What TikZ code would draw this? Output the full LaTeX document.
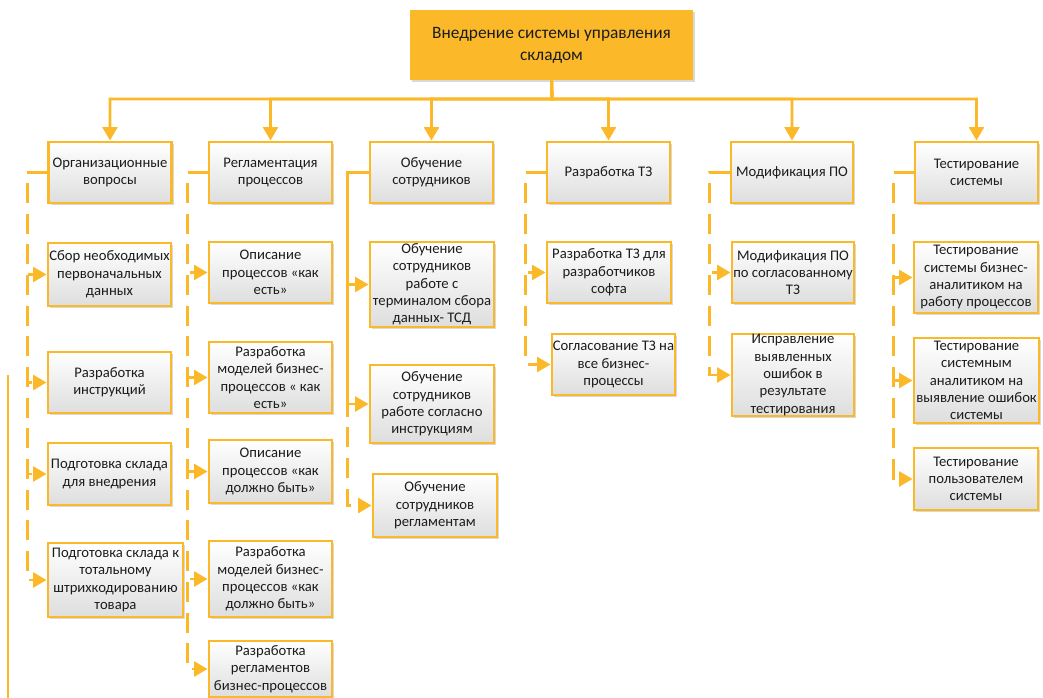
\documentclass[tikz,border=0pt]{standalone}
\usepackage{fontspec}
\setmainfont{Carlito}
\usetikzlibrary{arrows.meta,shadows}
\definecolor{wbsorange}{RGB}{251,185,42}
\definecolor{wbstext}{RGB}{28,28,28}
\tikzset{
  wbsline/.style={draw=wbsorange, line width=2.2pt},
  trunk/.style={wbsline, -{Triangle[length=10pt,width=11pt]}},
  feed/.style={trunk},
  dashfeed/.style={trunk, dash pattern=on 15pt off 8pt},
  task/.style 2 args={draw=wbsorange, line width=2.2pt, top color=white, bottom color=black!13,
    minimum width=#1*0.75pt, minimum height=#2*0.75pt, inner sep=0pt, align=center,
    text=wbstext, font=\fontsize{11}{13}\selectfont,
    drop shadow={shadow xshift=1.8pt, shadow yshift=-1.8pt, opacity=0.3}},
  goal/.style={fill=wbsorange, minimum width=283*0.75pt, minimum height=70*0.75pt,
    inner sep=0pt, align=center, text=wbstext, font=\fontsize{13}{16.5}\selectfont,
    drop shadow={shadow xshift=1.8pt, shadow yshift=-1.8pt, opacity=0.3}}
}
\begin{document}
\begin{tikzpicture}[x=0.75pt,y=0.75pt]
  \useasboundingbox (0,0) rectangle (1043,-698);
  \node[goal] (root) at (551.5,-45) {Внедрение системы управления\\складом};
  \coordinate (bus) at (552,-99);

  \node[task={123}{61}] (org) at (110,-172.5) {Организационные\\вопросы};
  \node[task={123}{61}] (regl) at (270.5,-172.5) {Регламентация\\процессов};
  \node[task={123}{61}] (obuch) at (431.5,-172.5) {Обучение\\сотрудников};
  \node[task={123}{61}] (tz) at (608.5,-172.5) {Разработка ТЗ};
  \node[task={122}{61}] (mod) at (792,-172.5) {Модификация ПО};
  \node[task={123}{61}] (test) at (976.5,-172.5) {Тестирование\\системы};

  \node[task={123}{63}] (org1) at (109.5,-274.5) {Сбор необходимых\\первоначальных\\данных};
  \node[task={123}{61}] (org2) at (109.5,-382.5) {Разработка\\инструкций};
  \node[task={123}{62}] (org3) at (109.5,-474) {Подготовка склада\\для внедрения};
  \node[task={135}{74}] (org4) at (115.5,-580) {Подготовка склада к\\тотальному\\штрихкодированию\\товара};

  \node[task={123}{61}] (regl1) at (270.5,-272.5) {Описание\\процессов «как\\есть»};
  \node[task={123}{71}] (regl2) at (270.5,-377.5) {Разработка\\моделей бизнес-\\процессов « как\\есть»};
  \node[task={123}{63}] (regl3) at (270.5,-471.5) {Описание\\процессов «как\\должно быть»};
  \node[task={123}{76}] (regl4) at (270.5,-579) {Разработка\\моделей бизнес-\\процессов «как\\должно быть»};
  \node[task={123}{56}] (regl5) at (270.5,-669) {Разработка\\регламентов\\бизнес-процессов};

  \node[task={124}{85}] (obuch1) at (432,-284.5) {Обучение\\сотрудников\\работе с\\терминалом сбора\\данных- ТСД};
  \node[task={124}{78}] (obuch2) at (432,-404) {Обучение\\сотрудников\\работе согласно\\инструкциям};
  \node[task={124}{63}] (obuch3) at (435,-505.5) {Обучение\\сотрудников\\регламентам};

  \node[task={124}{61}] (tz1) at (609,-272.5) {Разработка ТЗ для\\разработчиков\\софта};
  \node[task={123}{61}] (tz2) at (613.5,-364.5) {Согласование ТЗ на\\все бизнес-\\процессы};

  \node[task={122}{61}] (mod1) at (793,-272.5) {Модификация ПО\\по согласованному\\ТЗ};
  \node[task={122}{82}] (mod2) at (793,-375) {Исправление\\выявленных\\ошибок в\\результате\\тестирования};

  \node[task={124}{71}] (test1) at (976,-277.5) {Тестирование\\системы бизнес-\\аналитиком на\\работу процессов};
  \node[task={125}{85}] (test2) at (976.5,-380.5) {Тестирование\\системным\\аналитиком на\\выявление ошибок\\системы};
  \node[task={124}{62}] (test3) at (976,-479) {Тестирование\\пользователем\\системы};

  \draw[trunk] (root.south) -- (bus) -| (org.north);
  \draw[trunk] (root.south) -- (bus) -| (regl.north);
  \draw[trunk] (root.south) -- (bus) -| (obuch.north);
  \draw[trunk] (root.south) -- (bus) -| (tz.north);
  \draw[trunk] (root.south) -- (bus) -| (mod.north);
  \draw[trunk] (root.south) -- (bus) -| (test.north);

  \draw[dashfeed] (org.west) -- ++(-20,0) |- (org1.west);
  \draw[dashfeed] (org.west) -- ++(-20,0) |- (org2.west);
  \draw[dashfeed] (org.west) -- ++(-20,0) |- (org3.west);
  \draw[dashfeed] (org.west) -- ++(-20,0) |- (org4.west);

  \draw[dashfeed] (regl.west) -- ++(-20,0) |- (regl1.west);
  \draw[dashfeed] (regl.west) -- ++(-20,0) |- (regl2.west);
  \draw[dashfeed] (regl.west) -- ++(-20,0) |- (regl3.west);
  \draw[dashfeed] (regl.west) -- ++(-20,0) |- (regl4.west);
  \draw[dashfeed] (regl.west) -- ++(-20,0) |- (regl5.west);

  \draw[dashfeed] (obuch.west) -- ++(-21,0) |- (obuch3.west);
  \draw[feed] (obuch.west) -- ++(-21,0) |- (obuch1.west);
  \draw[feed] (obuch.west) -- ++(-21,0) |- (obuch2.west);

  \draw[dashfeed] (tz.west) -- ++(-20,0) |- (tz1.west);
  \draw[dashfeed] (tz.west) -- ++(-20,0) |- (tz2.west);

  \draw[dashfeed] (mod.west) -- ++(-20,0) |- (mod1.west);
  \draw[dashfeed] (mod.west) -- ++(-20,0) |- (mod2.west);

  \draw[dashfeed] (test.west) -- ++(-20,0) |- (test1.west);
  \draw[dashfeed] (test.west) -- ++(-20,0) |- (test2.west);
  \draw[dashfeed] (test.west) -- ++(-20,0) |- (test3.west);

  \coordinate (stray top) at (8,-375);
  \coordinate (stray end) at (8,-698);
  \draw[wbsline] (stray top) -- (stray end);
\end{tikzpicture}
\end{document}
